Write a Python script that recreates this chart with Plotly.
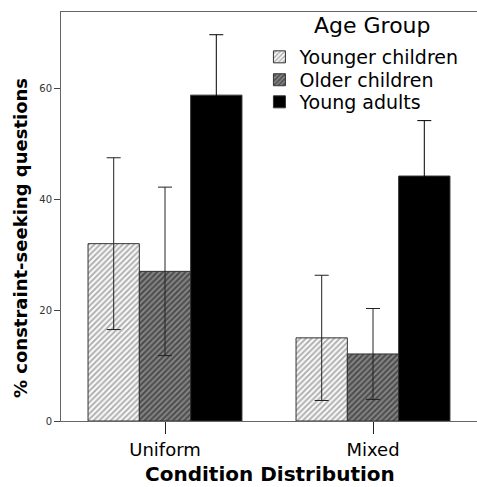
import plotly.graph_objects as go

categories = ["Uniform", "Mixed"]
groups = ["Younger children", "Older children", "Young adults"]
means = {
    "Younger children": [32.0, 15.0],
    "Older children": [27.0, 12.1],
    "Young adults": [58.8, 44.2],
}
errors = {
    "Younger children": [15.5, 11.3],
    "Older children": [15.2, 8.2],
    "Young adults": [10.9, 10.0],
}
y_ticks = [0, 20, 40, 60]
legend_title = "Age Group"
x_title = "Condition Distribution"
y_title = "% constraint-seeking questions"

styles = {
    "Younger children": dict(color="#f6f6f6", pattern=dict(shape="/", fgcolor="#5a5a5a", bgcolor="#f6f6f6", size=4, solidity=0.4)),
    "Older children": dict(color="#555555", pattern=dict(shape="/", fgcolor="#111111", bgcolor="#8a8a8a", size=4, solidity=0.55)),
    "Young adults": dict(color="#000000"),
}
err_colors = {"Younger children": "#222222", "Older children": "#222222", "Young adults": "#000000"}
legend_ids = {"Younger children": "legend", "Older children": "legend2", "Young adults": "legend3"}
legend_y = {"legend": 0.890, "legend2": 0.834, "legend3": 0.780}

FONT = "DejaVu Sans"
fig = go.Figure()
for g in groups:
    fig.add_trace(go.Bar(
        x=categories, y=means[g], name=g, legend=legend_ids[g], showlegend=True,
        marker=dict(line=dict(color="#333333", width=1), **styles[g]),
        error_y=dict(type="data", array=errors[g], visible=True, color=err_colors[g], thickness=1, width=7),
    ))

fig.add_annotation(
    text=legend_title, xref="paper", yref="paper", x=0.7476, y=0.9658,
    xanchor="center", yanchor="middle", showarrow=False,
    font=dict(size=22, family=FONT, color="#000000"),
)
fig.add_annotation(
    text="<b>" + x_title + "</b>", xref="paper", yref="paper", x=0.5024, y=-0.130,
    xanchor="center", yanchor="middle", showarrow=False,
    font=dict(size=20, family=FONT, color="#000000"),
)
fig.add_annotation(
    text="<b>" + y_title + "</b>", xref="paper", yref="paper", x=-0.0986, y=0.4474,
    xanchor="center", yanchor="middle", showarrow=False, textangle=-90,
    font=dict(size=18, family=FONT, color="#000000"),
)

legend_common = dict(
    x=0.477, xanchor="left", yanchor="middle",
    bgcolor="rgba(255,255,255,0)", font=dict(size=19, family=FONT),
    itemwidth=30, tracegroupgap=0,
)

fig.update_layout(
    width=477, height=487,
    margin=dict(l=61, r=0, t=12, b=66),
    paper_bgcolor="white", plot_bgcolor="white",
    barmode="group", bargap=0.26, bargroupgap=0,
    showlegend=True,
    font=dict(family=FONT, color="#000000"),
    legend=dict(y=legend_y["legend"], visible=True, **legend_common),
    legend2=dict(y=legend_y["legend2"], visible=True, **legend_common),
    legend3=dict(y=legend_y["legend3"], visible=True, **legend_common),
    xaxis=dict(
        showline=True, linecolor="#666666", linewidth=1, mirror=True,
        ticks="outside", ticklen=12, tickcolor="#222222",
        tickfont=dict(size=18, family=FONT),
        showgrid=False, automargin=False,
    ),
    yaxis=dict(
        range=[0, 73.8], tickvals=y_ticks, ticktext=[str(v) for v in y_ticks],
        showline=True, linecolor="#666666", linewidth=1,
        ticks="outside", ticklen=6, tickcolor="#444444",
        tickfont=dict(size=10, family=FONT, color="#333333"),
        showgrid=False, zeroline=False, automargin=False,
    ),
)

fig.write_html(
    "out.html",
    config={"displayModeBar": False},
    post_script="document.body.style.margin='0';document.body.style.overflow='hidden';",
)
